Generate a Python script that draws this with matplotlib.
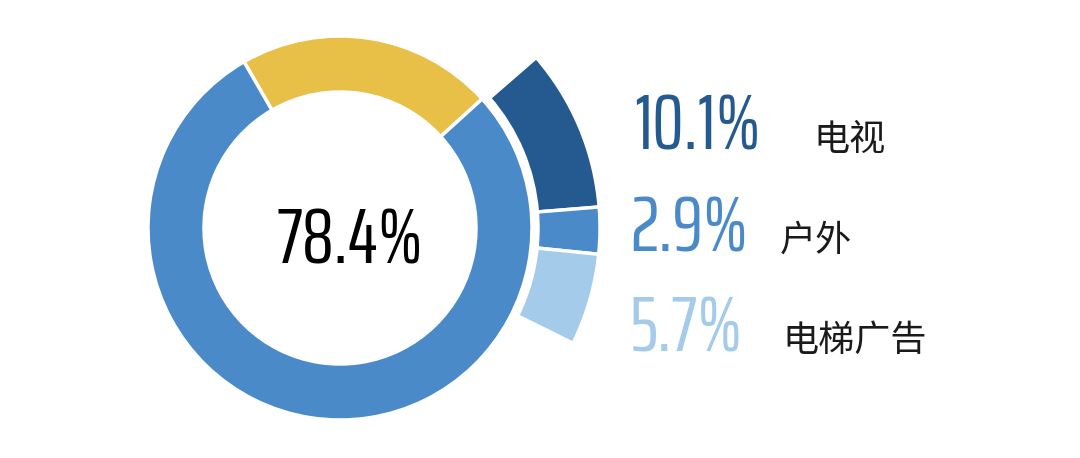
import matplotlib
matplotlib.use('Agg')
import matplotlib.pyplot as plt

# inner ring
ring_values = [21.6, 78.4]
ring_colors = ['#E8BF47', '#4A8AC8']
center_label = '78.4%'

# outer wedges (media share)
media_labels = ['电视', '户外', '电梯广告']
media_values = [10.1, 2.9, 5.7]
media_colors = ['#245A8F', '#4A8AC8', '#A5CBEB']

W, H = 1080, 458
fig = plt.figure(figsize=(W / 100, H / 100), dpi=100)
ax = fig.add_axes([0, 0, 1, 1])

cx, cy = 340, H - 228

ax.pie(ring_values, colors=ring_colors, startangle=120, counterclock=False,
       radius=192, center=(cx, cy),
       wedgeprops=dict(width=56, edgecolor='white', linewidth=2.5))

rest = 100 - sum(media_values)
wedges, _ = ax.pie(media_values + [rest], colors=media_colors + ['white'],
                   startangle=41, counterclock=False,
                   radius=260, center=(cx, cy),
                   wedgeprops=dict(width=62, edgecolor='white', linewidth=2.5))
wedges[-1].set_visible(False)

ax.set_xlim(0, W)
ax.set_ylim(0, H)
ax.set_aspect('equal')
ax.axis('off')

num_font = dict(family=['Saira ExtraCondensed', 'DejaVu Sans'], weight='normal')
ax.text(350, H - 263, center_label, ha='center', va='baseline',
        fontsize=57, color='black', **num_font)

base_y = [150, 251, 351]
num_x = [634, 630, 630]
lab_x = [813, 780, 782]
for i in range(len(media_values)):
    ax.text(num_x[i], H - base_y[i], f'{media_values[i]}%', ha='left',
            va='baseline', fontsize=57, color=media_colors[i], **num_font)
    ax.text(lab_x[i], H - base_y[i], media_labels[i], ha='left',
            va='baseline', fontsize=26, color='#1a1a1a',
            family=['Noto Sans CJK SC', 'DejaVu Sans'])

fig.savefig('out.png', dpi=100)
